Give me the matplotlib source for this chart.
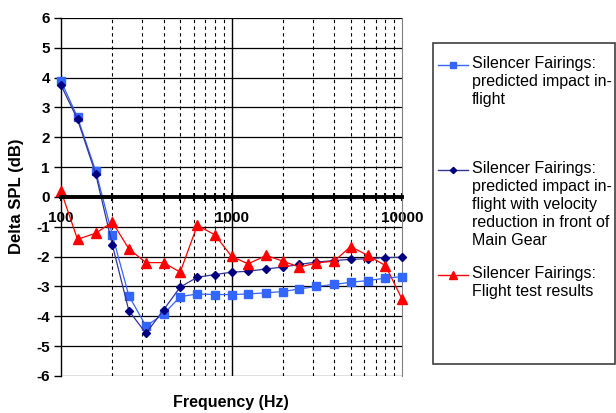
import matplotlib
matplotlib.use('Agg')
import matplotlib.pyplot as plt
from matplotlib.lines import Line2D
from matplotlib.patches import Rectangle
from matplotlib.ticker import FixedLocator, NullFormatter

freq = [100, 125, 160, 200, 250, 315, 400, 500, 630, 800, 1000,
        1250, 1600, 2000, 2500, 3150, 4000, 5000, 6300, 8000, 10000]

predicted = [3.89, 2.67, 0.86, -1.27, -3.31, -4.33, -3.92, -3.34, -3.25, -3.27, -3.27,
             -3.25, -3.21, -3.17, -3.08, -3.00, -2.93, -2.86, -2.80, -2.72, -2.67]

predicted_vel = [3.75, 2.60, 0.76, -1.60, -3.81, -4.57, -3.78, -3.02, -2.69, -2.60, -2.52,
                 -2.49, -2.41, -2.35, -2.26, -2.18, -2.13, -2.09, -2.07, -2.03, -2.02]

flight_test = [0.20, -1.42, -1.21, -0.84, -1.74, -2.20, -2.20, -2.52, -0.95, -1.27, -1.99,
               -2.24, -1.96, -2.15, -2.35, -2.21, -2.15, -1.66, -1.96, -2.30, -3.42]

labels = ['Silencer Fairings:\npredicted impact in-\nflight',
          'Silencer Fairings:\npredicted impact in-\nflight with velocity\nreduction in front of\nMain Gear',
          'Silencer Fairings:\nFlight test results']

font = 'Liberation Sans'
plt.rcParams['axes.unicode_minus'] = False

fig = plt.figure(figsize=(6.16, 4.13), dpi=100)
ax = fig.add_axes([61/616, 1-376/413, (402-61)/616, (376-18)/413])

ax.set_xscale('log')
ax.set_xlim(100, 10000)
ax.set_ylim(-6, 6)

# grid lines (drawn by hand so they look like the excel ones)
for y in range(-6, 7):
    ax.axhline(y, color='black', lw=0.9, zorder=1)
minors = [m * d for d in (100, 1000) for m in range(2, 10)]
for x in minors:
    ax.axvline(x, color='black', lw=0.8, ls=(0, (3, 3)), zorder=1)
ax.axvline(1000, color='black', lw=1.0, zorder=1)

styles = [
    dict(marker='s', ms=5.5, mec='#3366ff', mfc='#3366ff'),
    dict(marker='D', ms=4, mec='#000080', mfc='#000080'),
    dict(marker='^', ms=6.5, mec='#ff0000', mfc='#ff0000'),
]
line_colors = ['#3366ff', '#333399', '#ff0000']
series = [predicted, predicted_vel, flight_test]
for vals, st, lc in zip(series, styles, line_colors):
    ax.plot(freq, vals, color=lc, lw=0.9, zorder=3, clip_on=False, **st)

# axes styling
ax.spines['bottom'].set_position(('data', 0))
ax.spines['bottom'].set_linewidth(2.8)
ax.spines['bottom'].set_zorder(4)
ax.spines['top'].set_visible(False)
ax.spines['right'].set_color('#808080')
ax.spines['left'].set_linewidth(1.0)

ax.xaxis.set_major_locator(FixedLocator([100, 1000, 10000]))
ax.xaxis.set_minor_locator(FixedLocator(minors))
ax.xaxis.set_minor_formatter(NullFormatter())
ax.set_xticklabels(['100', '1000', '10000'])
ax.tick_params(axis='x', which='both', direction='inout', length=6, width=1.5, pad=7)
ax.set_yticks(range(-6, 7))
ax.tick_params(axis='y', direction='out', length=5, width=1, pad=3)

for lab in ax.get_xticklabels() + ax.get_yticklabels():
    lab.set_fontfamily(font)
    lab.set_fontweight('bold')
    lab.set_fontsize(11)

fig.text(231/616, 1-403/413, 'Frequency (Hz)', ha='center', va='center',
         fontfamily=font, fontweight='bold', fontsize=11.5)
fig.text(17/616, 1-196/413, 'Delta SPL (dB)', ha='center', va='center', rotation=90,
         fontfamily=font, fontweight='bold', fontsize=12)

# legend box drawn by hand
box = Rectangle((433/616, 1-364/413), (615-433)/616, (364-43)/413, transform=fig.transFigure,
                facecolor='white', edgecolor='#404040', lw=1.2)
fig.patches.append(box)
entry_y = [65, 170, 275]
for yy, st, lc, lab in zip(entry_y, styles, line_colors, labels):
    kw = dict(st)
    kw['ms'] = kw['ms'] * 0.8
    fig.lines.append(Line2D([438/616, 468/616], [1-yy/413, 1-yy/413], transform=fig.transFigure,
                            color=lc, lw=1))
    fig.lines.append(Line2D([453/616], [1-yy/413], transform=fig.transFigure, ls='None', **kw))
    fig.text(472/616, 1-(yy-9)/413, lab, ha='left', va='top', fontfamily=font,
             fontsize=11.5, linespacing=1.25)

fig.savefig('out.png', dpi=100)
